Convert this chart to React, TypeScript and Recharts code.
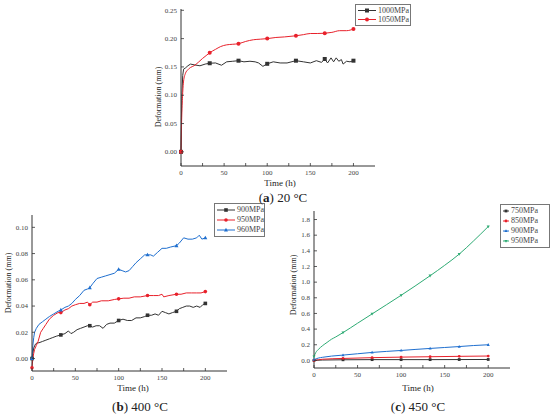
import React from 'react';
import { LineChart, Line, XAxis, YAxis } from 'recharts';

const FONT = '"Liberation Serif", "Times New Roman", serif';
const AXIS = '#333333';

const MARKS = [0, 33.3, 66.7, 100, 133.3, 166.7, 200];
const X_TICKS = [0, 25, 50, 75, 100, 125, 150, 175, 200];

// (a) 20 °C
const a1000T = [0, 0.5, 1, 2, 3, 5, 8, 11, 16, 22, 28, 33.3, 40, 47, 53, 60, 66.7, 73, 80, 86, 90, 95, 100, 107, 115, 123, 133.3, 142, 150, 157, 163, 166.7, 170, 174, 177, 180, 183, 186, 188, 192, 196, 200];
const a1000V = [0, 0.06, 0.1, 0.135, 0.146, 0.148, 0.152, 0.155, 0.1535, 0.152, 0.155, 0.1565, 0.157, 0.153, 0.159, 0.16, 0.161, 0.159, 0.16, 0.159, 0.157, 0.151, 0.1555, 0.159, 0.157, 0.157, 0.161, 0.159, 0.157, 0.161, 0.158, 0.164, 0.157, 0.166, 0.159, 0.166, 0.16, 0.163, 0.155, 0.16, 0.159, 0.161];
const a1050T = [0, 0.5, 1, 2, 3, 5, 8, 11, 15, 20, 25, 30, 33.3, 40, 46, 53, 60, 66.7, 75, 84, 92, 100, 110, 120, 133.3, 142, 150, 158, 166.7, 175, 184, 192, 200];
const a1050V = [0, 0.04, 0.07, 0.105, 0.125, 0.138, 0.145, 0.149, 0.152, 0.158, 0.165, 0.171, 0.175, 0.181, 0.186, 0.189, 0.19, 0.191, 0.195, 0.198, 0.199, 0.2, 0.202, 0.203, 0.205, 0.207, 0.209, 0.209, 0.2095, 0.211, 0.214, 0.214, 0.217];
const aTicks = [0, 0.05, 0.1, 0.15, 0.2, 0.25];

// (b) 400 °C
const b900T = [0, 1, 2, 4, 6, 8, 12, 16, 20, 24, 28, 33.3, 38, 42, 45, 48, 52, 56, 60, 64, 66.7, 70, 74, 78, 82, 86, 90, 95, 100, 105, 110, 115, 120, 125, 130, 133.3, 138, 142, 146, 150, 154, 158, 162, 166.7, 170, 174, 178, 182, 186, 190, 194, 197, 200];
const b900V = [0, 0.004, 0.008, 0.011, 0.012, 0.012, 0.013, 0.014, 0.015, 0.016, 0.017, 0.018, 0.019, 0.021, 0.019, 0.02, 0.022, 0.023, 0.024, 0.025, 0.025, 0.024, 0.025, 0.025, 0.023, 0.026, 0.027, 0.027, 0.029, 0.03, 0.029, 0.029, 0.031, 0.031, 0.032, 0.033, 0.033, 0.034, 0.033, 0.036, 0.035, 0.034, 0.035, 0.036, 0.038, 0.039, 0.04, 0.04, 0.039, 0.04, 0.039, 0.041, 0.042];
const b950T = [0, 1, 2, 3, 5, 7, 10, 13, 16, 20, 25, 30, 33.3, 38, 42, 46, 50, 55, 60, 64, 66.7, 70, 75, 80, 88, 95, 100, 106, 112, 118, 125, 133.3, 140, 146, 150, 152, 158, 166.7, 172, 178, 184, 190, 195, 200];
const b950V = [-0.007, 0, 0.004, 0.007, 0.01, 0.013, 0.02, 0.023, 0.026, 0.03, 0.033, 0.035, 0.035, 0.037, 0.038, 0.04, 0.041, 0.042, 0.042, 0.043, 0.041, 0.043, 0.043, 0.044, 0.044, 0.045, 0.0455, 0.046, 0.046, 0.047, 0.047, 0.048, 0.048, 0.048, 0.049, 0.047, 0.048, 0.049, 0.049, 0.05, 0.05, 0.05, 0.05, 0.051];
const b960T = [0, 1, 2, 3, 5, 8, 12, 16, 20, 25, 30, 33.3, 38, 42, 46, 50, 55, 60, 64, 66.7, 70, 75, 80, 85, 90, 95, 100, 104, 108, 112, 116, 120, 125, 130, 133.3, 137, 140, 145, 150, 155, 160, 166.7, 170, 175, 180, 185, 190, 193, 196, 200];
const b960V = [0, 0.01, 0.016, 0.02, 0.023, 0.026, 0.028, 0.03, 0.032, 0.034, 0.036, 0.037, 0.039, 0.04, 0.042, 0.045, 0.048, 0.052, 0.053, 0.054, 0.057, 0.061, 0.062, 0.063, 0.064, 0.065, 0.068, 0.067, 0.066, 0.067, 0.07, 0.073, 0.076, 0.079, 0.079, 0.079, 0.078, 0.081, 0.084, 0.084, 0.085, 0.086, 0.088, 0.092, 0.091, 0.091, 0.092, 0.094, 0.091, 0.092];
const bTicks = [0, 0.02, 0.04, 0.06, 0.08, 0.1];

// (c) 450 °C
const c750T = [0, 10, 33.3, 66.7, 100, 133.3, 166.7, 200];
const c750V = [0, 0.005, 0.008, 0.01, 0.01, 0.01, 0.011, 0.012];
const c850T = [0, 10, 33.3, 66.7, 100, 133.3, 166.7, 200];
const c850V = [0, 0.015, 0.025, 0.035, 0.042, 0.047, 0.052, 0.056];
const c900T = [0, 5, 10, 20, 33.3, 50, 66.7, 83, 100, 116, 133.3, 150, 166.7, 183, 200];
const c900V = [0.01, 0.03, 0.04, 0.055, 0.068, 0.085, 0.102, 0.115, 0.127, 0.14, 0.153, 0.165, 0.177, 0.19, 0.2];
const c950T = [0, 2, 5, 10, 15, 20, 25, 33.3, 50, 66.7, 83, 100, 116, 133.3, 150, 166.7, 183, 200];
const c950V = [0.05, 0.1, 0.14, 0.19, 0.23, 0.27, 0.3, 0.355, 0.475, 0.594, 0.71, 0.832, 0.95, 1.082, 1.215, 1.358, 1.525, 1.71];
const cTicks = [0, 0.2, 0.4, 0.6, 0.8, 1.0, 1.2, 1.4, 1.6, 1.8];

type Shape = 'square' | 'circle' | 'up' | 'down';

const toPoints = (t: number[], v: number[]) => t.map((x, i) => ({ t: x, v: v[i], m: MARKS.includes(x) }));

const MarkerShape = ({ shape, cx, cy, color, r }: { shape: Shape; cx: number; cy: number; color: string; r: number }) => {
  if (shape === 'square') return <rect x={cx - r} y={cy - r} width={r * 2} height={r * 2} fill={color} />;
  if (shape === 'circle') return <circle cx={cx} cy={cy} r={r} fill={color} />;
  if (shape === 'up') return <polygon points={`${cx},${cy - r * 1.2} ${cx - r * 1.1},${cy + r * 0.8} ${cx + r * 1.1},${cy + r * 0.8}`} fill={color} />;
  return <polygon points={`${cx},${cy + r * 1.2} ${cx - r * 1.1},${cy - r * 0.8} ${cx + r * 1.1},${cy - r * 0.8}`} fill={color} />;
};

const makeDot = (shape: Shape, color: string, r: number) => (props: any) => {
  const { cx, cy, payload, index } = props;
  if (!payload || !payload.m) return <g key={index} />;
  return (
    <g key={index}>
      <MarkerShape shape={shape} cx={cx} cy={cy} color={color} r={r} />
    </g>
  );
};

interface Series { name: string; t: number[]; v: number[]; color: string; shape: Shape; curve?: 'linear' | 'monotone' }

// ticks point into the plot, Origin style
const XTick = (props: any) => {
  const { x, y, payload } = props;
  const val = payload.value as number;
  return (
    <g>
      <line x1={x} x2={x} y1={y - 4} y2={y - 7} stroke={AXIS} strokeWidth={0.8} />
      {val % 50 === 0 && (
        <text x={x} y={y} dy="0.71em" textAnchor="middle" fontFamily={FONT} fontSize={7} fill="#444">{val}</text>
      )}
    </g>
  );
};

const makeYTick = (digits: number) => (props: any) => {
  const { x, y, payload } = props;
  return (
    <g>
      <line x1={x + 4} x2={x + 7} y1={y} y2={y} stroke={AXIS} strokeWidth={0.8} />
      <text x={x} y={y} dy="0.32em" textAnchor="end" fontFamily={FONT} fontSize={7} fill="#444">
        {(payload.value as number).toFixed(digits)}
      </text>
    </g>
  );
};

const Panel: React.FC<{
  left: number; top: number; width: number; height: number;
  margin: { top: number; right: number; bottom: number; left: number };
  yWidth: number; yDomain: [number, number]; yTicks: number[]; digits: number;
  series: Series[]; r: number;
}> = ({ left, top, width, height, margin, yWidth, yDomain, yTicks, digits, series, r }) => (
  <div style={{ position: 'absolute', left, top }}>
    <LineChart width={width} height={height} margin={margin}>
      <XAxis
        type="number" dataKey="t" domain={[0, 225]} ticks={X_TICKS} allowDuplicatedCategory={false} interval={0}
        tick={<XTick />} tickSize={0} tickMargin={4} tickLine={false} height={20} stroke={AXIS}
      />
      <YAxis
        type="number" dataKey="v" domain={yDomain} ticks={yTicks} allowDataOverflow interval={0}
        tick={makeYTick(digits)} tickSize={0} tickMargin={4} tickLine={false} width={yWidth} stroke={AXIS}
      />
      {series.map((s) => (
        <Line
          key={s.name} data={toPoints(s.t, s.v)} dataKey="v" type={s.curve || 'linear'}
          stroke={s.color} strokeWidth={1} dot={makeDot(s.shape, s.color, r)} activeDot={false}
          isAnimationActive={false}
        />
      ))}
    </LineChart>
  </div>
);

const LegendBox: React.FC<{ left: number; top: number; width: number; row: number; lineW: number; series: Series[]; r: number }> = ({ left, top, width, row, lineW, series, r }) => (
  <div style={{ position: 'absolute', left, top, width, border: '1px solid #777', background: '#fff', padding: '1px 0', boxSizing: 'border-box' }}>
    {series.map((s) => (
      <div key={s.name} style={{ display: 'flex', alignItems: 'center', height: row }}>
        <svg width={lineW + 4} height={row} style={{ flex: 'none' }}>
          <line x1={2} x2={lineW + 2} y1={row / 2} y2={row / 2} stroke={s.color} strokeWidth={1} />
          <MarkerShape shape={s.shape} cx={lineW / 2 + 2} cy={row / 2} color={s.color} r={r} />
        </svg>
        <span style={{ fontFamily: FONT, fontSize: 8, color: '#444', lineHeight: `${row}px`, whiteSpace: 'nowrap' }}>{s.name}</span>
      </div>
    ))}
  </div>
);

const Text: React.FC<{ x: number; y: number; size: number; rotate?: boolean; children: React.ReactNode }> = ({ x, y, size, rotate, children }) => (
  <div style={{
    position: 'absolute', left: x, top: y, transform: `translate(-50%, -50%)${rotate ? ' rotate(-90deg)' : ''}`,
    fontFamily: FONT, fontSize: size, color: '#222', whiteSpace: 'nowrap', lineHeight: 1,
  }}>{children}</div>
);

const seriesA: Series[] = [
  { name: '1000MPa', t: a1000T, v: a1000V, color: '#333333', shape: 'square' },
  { name: '1050MPa', t: a1050T, v: a1050V, color: '#e8212b', shape: 'circle', curve: 'monotone' },
];
const seriesB: Series[] = [
  { name: '900MPa', t: b900T, v: b900V, color: '#333333', shape: 'square' },
  { name: '950MPa', t: b950T, v: b950V, color: '#e8212b', shape: 'circle' },
  { name: '960MPa', t: b960T, v: b960V, color: '#1f6fcf', shape: 'up' },
];
const seriesC: Series[] = [
  { name: '750MPa', t: c750T, v: c750V, color: '#333333', shape: 'square', curve: 'monotone' },
  { name: '850MPa', t: c850T, v: c850V, color: '#e8212b', shape: 'circle', curve: 'monotone' },
  { name: '900MPa', t: c900T, v: c900V, color: '#1f6fcf', shape: 'up', curve: 'monotone' },
  { name: '950MPa', t: c950T, v: c950V, color: '#2eab74', shape: 'down', curve: 'monotone' },
];

export default function App() {
  return (
    <div style={{ position: 'absolute', left: 0, top: 0, width: 550, height: 415, background: '#fff', overflow: 'hidden' }}>
      <Panel left={140} top={0} width={240} height={186} margin={{ top: 9, right: 5, bottom: 0, left: 1 }}
        yWidth={40} yDomain={[-0.025, 0.2523]} yTicks={aTicks} digits={2} series={seriesA} r={2} />
      <Panel left={0} top={195} width={232} height={196} margin={{ top: 20, right: 5, bottom: 0, left: 2 }}
        yWidth={30} yDomain={[-0.0095, 0.1094]} yTicks={bTicks} digits={2} series={seriesB} r={1.8} />
      <Panel left={275} top={195} width={240} height={193} margin={{ top: 16, right: 5, bottom: 0, left: 1 }}
        yWidth={38} yDomain={[-0.097, 1.909]} yTicks={cTicks} digits={1} series={seriesC} r={1.4} />

      <LegendBox left={355} top={4} width={56} row={9} lineW={18} series={seriesA} r={2} />
      <LegendBox left={214} top={203} width={51} row={10} lineW={18} series={seriesB} r={1.8} />
      <LegendBox left={500} top={204} width={50} row={10} lineW={6} series={seriesC} r={1.4} />

      <Text x={159} y={97} size={8} rotate>Deformation (mm)</Text>
      <Text x={9} y={283} size={8} rotate>Deformation (mm)</Text>
      <Text x={294} y={285} size={8} rotate>Deformation (mm)</Text>

      <Text x={280} y={183} size={9}>Time (h)</Text>
      <Text x={133} y={388} size={9}>Time (h)</Text>
      <Text x={418} y={388} size={9}>Time (h)</Text>

      <Text x={283} y={197} size={13}>(<b>a</b>) 20 °C</Text>
      <Text x={140} y={406} size={13}>(<b>b</b>) 400 °C</Text>
      <Text x={418} y={406} size={13}>(<b>c</b>) 450 °C</Text>
    </div>
  );
}
